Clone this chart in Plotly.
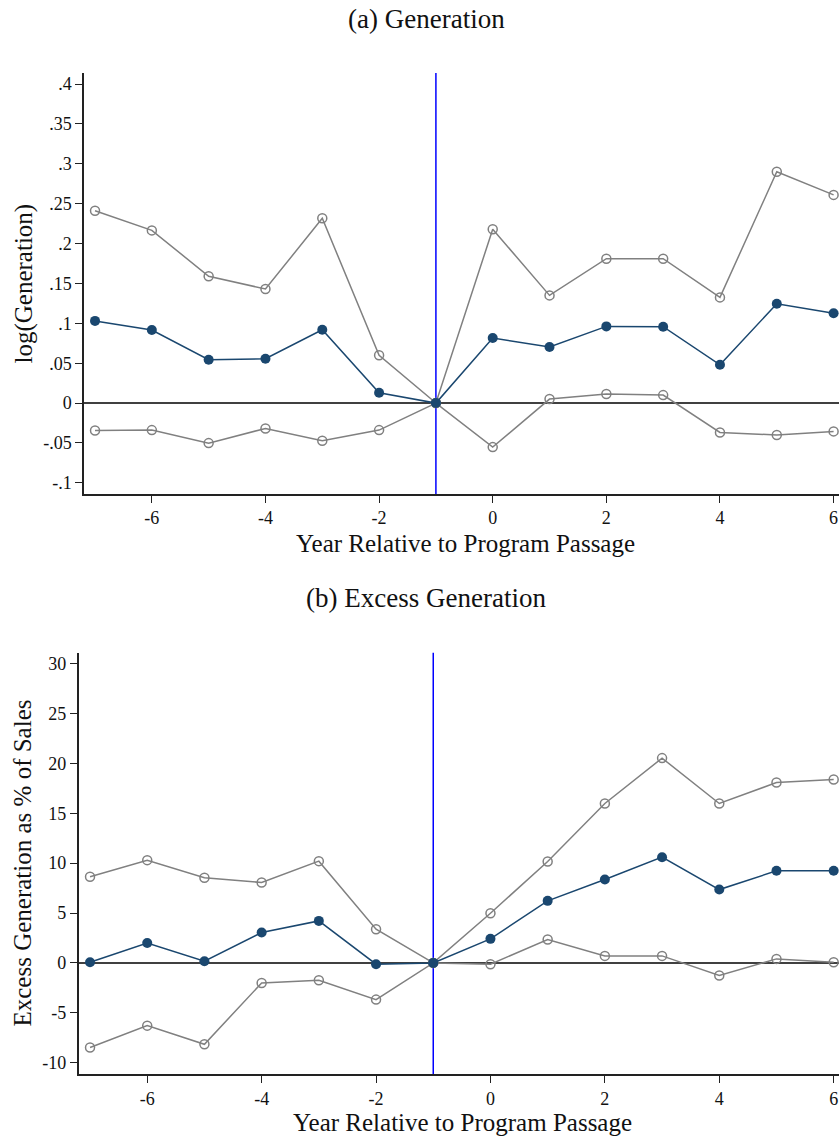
import plotly.graph_objects as go

years = [-7, -6, -5, -4, -3, -2, -1, 0, 1, 2, 3, 4, 5, 6]

gen_est = [0.103, 0.0915, 0.0543, 0.0556, 0.0919, 0.0129, 0.0, 0.0815, 0.0702, 0.0961, 0.0957, 0.048, 0.1245, 0.1125]
gen_hi = [0.241, 0.2165, 0.159, 0.143, 0.2316, 0.060, 0.0, 0.218, 0.135, 0.181, 0.181, 0.1325, 0.290, 0.261]
gen_lo = [-0.0343, -0.0339, -0.0502, -0.0318, -0.0472, -0.0339, 0.0, -0.0552, 0.005, 0.0113, 0.010, -0.0368, -0.0401, -0.0355]

exc_est = [0.07, 2.0, 0.17, 3.04, 4.21, -0.13, 0.0, 2.41, 6.22, 8.36, 10.6, 7.35, 9.23, 9.23]
exc_hi = [8.63, 10.3, 8.53, 8.06, 10.2, 3.38, 0.0, 4.98, 10.16, 15.98, 20.53, 15.98, 18.08, 18.39]
exc_lo = [-8.49, -6.29, -8.16, -2.01, -1.74, -3.68, 0.0, -0.13, 2.34, 0.70, 0.70, -1.27, 0.40, 0.07]

gen_ticks = [-0.1, -0.05, 0, 0.05, 0.1, 0.15, 0.2, 0.25, 0.3, 0.35, 0.4]
gen_ticktext = ["-.1", "-.05", "0", ".05", ".1", ".15", ".2", ".25", ".3", ".35", ".4"]
exc_ticks = [-10, -5, 0, 5, 10, 15, 20, 25, 30]
exc_ticktext = ["-10", "-5", "0", "5", "10", "15", "20", "25", "30"]
x_ticks = [-6, -4, -2, 0, 2, 4, 6]
x_ticktext = ["-6", "-4", "-2", "0", "2", "4", "6"]

titles = ["(a) Generation", "(b) Excess Generation"]
ytitles = ["log(Generation)", "Excess Generation as % of Sales"]
xtitle = "Year Relative to Program Passage"

W, H = 839, 1140
FONT = '"Liberation Serif", "Times New Roman", serif'
NAVY = "#1a476f"
GRAY = "#808080"

fig = go.Figure()

def add_panel(xa, ya, est, hi, lo):
    for ser in (hi, lo):
        fig.add_trace(go.Scatter(
            x=years, y=ser, xaxis=xa, yaxis=ya, mode="lines+markers",
            line=dict(color=GRAY, width=1.5),
            marker=dict(symbol="circle-open", size=9, color=GRAY, line=dict(width=1.5, color=GRAY)),
            showlegend=False, hoverinfo="skip"))
    fig.add_trace(go.Scatter(
        x=years, y=est, xaxis=xa, yaxis=ya, mode="lines+markers",
        line=dict(color=NAVY, width=1.5),
        marker=dict(symbol="circle", size=10, color=NAVY),
        showlegend=False, hoverinfo="skip"))

add_panel("x", "y", gen_est, gen_hi, gen_lo)
add_panel("x2", "y2", exc_est, exc_hi, exc_lo)

def py(px):
    return 1 - px / H

axis_common = dict(showline=True, linecolor="#222222", linewidth=1.5, ticks="outside",
                   ticklen=7, tickwidth=1.2, tickcolor="#222222", showgrid=False, zeroline=False,
                   tickfont=dict(family=FONT, size=18, color="#111111"))

fig.update_layout(
    width=W, height=H, margin=dict(l=0, r=0, t=0, b=0),
    plot_bgcolor="white", paper_bgcolor="white",
    font=dict(family=FONT, color="#111111"),
    xaxis=dict(domain=[84 / W, 1], range=[-7.194, 6.095], tickvals=x_ticks, ticktext=x_ticktext,
               anchor="y", **axis_common),
    yaxis=dict(domain=[py(494), py(73)], range=[-0.114, 0.4138], tickvals=gen_ticks, ticktext=gen_ticktext,
               anchor="x", **axis_common),
    xaxis2=dict(domain=[78.7 / W, 1], range=[-7.198, 6.093], tickvals=x_ticks, ticktext=x_ticktext,
                anchor="y2", **axis_common),
    yaxis2=dict(domain=[py(1074.3), py(652.7)], range=[-11.17, 31.1], tickvals=exc_ticks,
                ticktext=exc_ticktext, anchor="x2", **axis_common),
)

# reference lines
for xr, yr in (("x", "y"), ("x2", "y2")):
    fig.add_shape(type="line", xref=xr + " domain", yref=yr, x0=0, x1=1, y0=0, y1=0,
                  line=dict(color="black", width=1.5), layer="below")
    fig.add_shape(type="line", xref=xr, yref=yr + " domain", x0=-1, x1=-1, y0=0, y1=1,
                  line=dict(color="#0000ff", width=1.5), layer="below")

ann = []
ann.append(dict(text=titles[0], x=426 / W, y=py(19), xref="paper", yref="paper", showarrow=False,
                font=dict(family=FONT, size=27, color="#111111"), xanchor="center", yanchor="middle"))
ann.append(dict(text=titles[1], x=426 / W, y=py(598), xref="paper", yref="paper", showarrow=False,
                font=dict(family=FONT, size=27, color="#111111"), xanchor="center", yanchor="middle"))
ann.append(dict(text=xtitle, x=465 / W, y=py(544), xref="paper", yref="paper", showarrow=False,
                font=dict(family=FONT, size=25, color="#111111"), xanchor="center", yanchor="middle"))
ann.append(dict(text=xtitle, x=462 / W, y=py(1122), xref="paper", yref="paper", showarrow=False,
                font=dict(family=FONT, size=25, color="#111111"), xanchor="center", yanchor="middle"))
ann.append(dict(text=ytitles[0], x=23 / W, y=py(283.5), xref="paper", yref="paper", showarrow=False,
                textangle=-90, font=dict(family=FONT, size=25, color="#111111"), xanchor="center", yanchor="middle"))
ann.append(dict(text=ytitles[1], x=22 / W, y=py(863.5), xref="paper", yref="paper", showarrow=False,
                textangle=-90, font=dict(family=FONT, size=25, color="#111111"), xanchor="center", yanchor="middle"))
fig.update_layout(annotations=ann)

fig.write_html("out.html")
